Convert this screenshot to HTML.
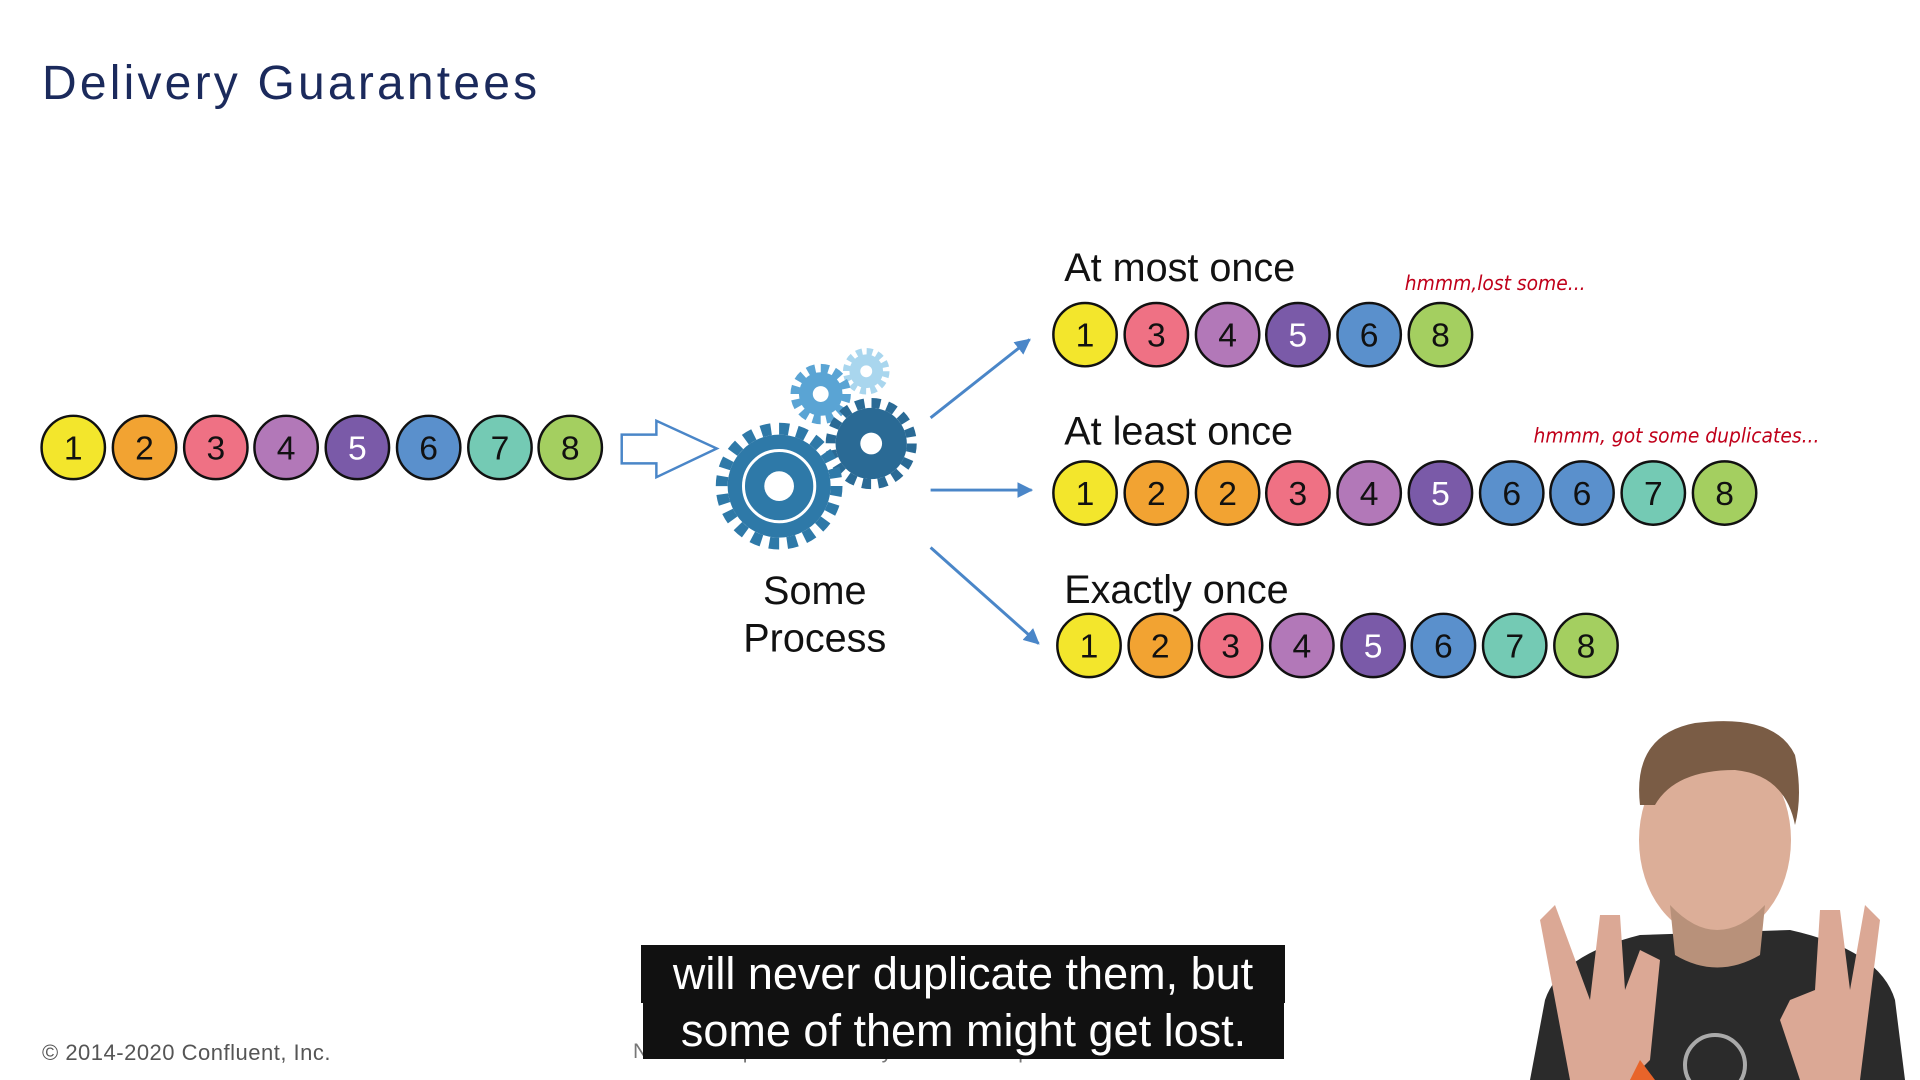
<!DOCTYPE html>
<html><head><meta charset="utf-8"><style>
html,body{margin:0;padding:0;background:#fff;}
body{width:1920px;height:1080px;position:relative;overflow:hidden;font-family:"Liberation Sans",sans-serif;}
.t{position:absolute;white-space:nowrap;}
</style></head><body>
<div class="t" style="left:42px;top:56px;font-size:48px;color:#1b2a5c;letter-spacing:3.2px;">Delivery Guarantees</div>

<svg width="1920" height="1080" style="position:absolute;left:0;top:0" font-family="Liberation Sans, sans-serif">
<defs>
<marker id="a2" viewBox="0 0 10 10" markerWidth="16" markerHeight="16" refX="9" refY="5" orient="auto" markerUnits="userSpaceOnUse"><path d="M0,0 L10,5 L0,10 z" fill="#4a86c8"/></marker>
</defs>
<g transform="translate(0,1) scale(0.99)">
<g stroke="#111" stroke-width="2.5" font-size="34" text-anchor="middle">
<g transform="translate(74,451)"><circle r="32" fill="#f3e62c"/><text y="12" fill="#111" stroke="none">1</text></g>
<g transform="translate(146,451)"><circle r="32" fill="#f2a332"/><text y="12" fill="#111" stroke="none">2</text></g>
<g transform="translate(218,451)"><circle r="32" fill="#ef7184"/><text y="12" fill="#111" stroke="none">3</text></g>
<g transform="translate(289,451)"><circle r="32" fill="#b278b8"/><text y="12" fill="#111" stroke="none">4</text></g>
<g transform="translate(361,451)"><circle r="32" fill="#7a5aa8"/><text y="12" fill="#fff" stroke="none">5</text></g>
<g transform="translate(433,451)"><circle r="32" fill="#5a90cc"/><text y="12" fill="#111" stroke="none">6</text></g>
<g transform="translate(505,451)"><circle r="32" fill="#74cab4"/><text y="12" fill="#111" stroke="none">7</text></g>
<g transform="translate(576,451)"><circle r="32" fill="#a4cf60"/><text y="12" fill="#111" stroke="none">8</text></g>
<g transform="translate(1096,337)"><circle r="32" fill="#f3e62c"/><text y="12" fill="#111" stroke="none">1</text></g>
<g transform="translate(1168,337)"><circle r="32" fill="#ef7184"/><text y="12" fill="#111" stroke="none">3</text></g>
<g transform="translate(1240,337)"><circle r="32" fill="#b278b8"/><text y="12" fill="#111" stroke="none">4</text></g>
<g transform="translate(1311,337)"><circle r="32" fill="#7a5aa8"/><text y="12" fill="#fff" stroke="none">5</text></g>
<g transform="translate(1383,337)"><circle r="32" fill="#5a90cc"/><text y="12" fill="#111" stroke="none">6</text></g>
<g transform="translate(1455,337)"><circle r="32" fill="#a4cf60"/><text y="12" fill="#111" stroke="none">8</text></g>
<g transform="translate(1096,497)"><circle r="32" fill="#f3e62c"/><text y="12" fill="#111" stroke="none">1</text></g>
<g transform="translate(1168,497)"><circle r="32" fill="#f2a332"/><text y="12" fill="#111" stroke="none">2</text></g>
<g transform="translate(1240,497)"><circle r="32" fill="#f2a332"/><text y="12" fill="#111" stroke="none">2</text></g>
<g transform="translate(1311,497)"><circle r="32" fill="#ef7184"/><text y="12" fill="#111" stroke="none">3</text></g>
<g transform="translate(1383,497)"><circle r="32" fill="#b278b8"/><text y="12" fill="#111" stroke="none">4</text></g>
<g transform="translate(1455,497)"><circle r="32" fill="#7a5aa8"/><text y="12" fill="#fff" stroke="none">5</text></g>
<g transform="translate(1527,497)"><circle r="32" fill="#5a90cc"/><text y="12" fill="#111" stroke="none">6</text></g>
<g transform="translate(1598,497)"><circle r="32" fill="#5a90cc"/><text y="12" fill="#111" stroke="none">6</text></g>
<g transform="translate(1670,497)"><circle r="32" fill="#74cab4"/><text y="12" fill="#111" stroke="none">7</text></g>
<g transform="translate(1742,497)"><circle r="32" fill="#a4cf60"/><text y="12" fill="#111" stroke="none">8</text></g>
<g transform="translate(1100,651)"><circle r="32" fill="#f3e62c"/><text y="12" fill="#111" stroke="none">1</text></g>
<g transform="translate(1172,651)"><circle r="32" fill="#f2a332"/><text y="12" fill="#111" stroke="none">2</text></g>
<g transform="translate(1243,651)"><circle r="32" fill="#ef7184"/><text y="12" fill="#111" stroke="none">3</text></g>
<g transform="translate(1315,651)"><circle r="32" fill="#b278b8"/><text y="12" fill="#111" stroke="none">4</text></g>
<g transform="translate(1387,651)"><circle r="32" fill="#7a5aa8"/><text y="12" fill="#fff" stroke="none">5</text></g>
<g transform="translate(1458,651)"><circle r="32" fill="#5a90cc"/><text y="12" fill="#111" stroke="none">6</text></g>
<g transform="translate(1530,651)"><circle r="32" fill="#74cab4"/><text y="12" fill="#111" stroke="none">7</text></g>
<g transform="translate(1602,651)"><circle r="32" fill="#a4cf60"/><text y="12" fill="#111" stroke="none">8</text></g>
</g>

<path d="M628,438 L663,438 L663,424 L724,452 L663,481 L663,467 L628,467 Z" fill="#fff" stroke="#4a86c8" stroke-width="2.5"/>

<g transform="translate(875,374)"><circle r="17" fill="#a9d6ee"/><circle r="20" fill="none" stroke="#a9d6ee" stroke-width="7" stroke-dasharray="6 4.5"/><circle r="6" fill="#fff"/></g>
<g transform="translate(829,397)"><circle r="22" fill="#5aa4d4"/><circle r="26" fill="none" stroke="#5aa4d4" stroke-width="9" stroke-dasharray="8 5.6"/><circle r="8" fill="#fff"/></g>
<g transform="translate(880,447)"><circle r="36" fill="#2a6a95"/><circle r="41" fill="none" stroke="#2a6a95" stroke-width="10" stroke-dasharray="9 7.1"/><circle r="11" fill="#fff"/></g>
<g transform="translate(787,490)"><circle r="52" fill="#2e79a8"/><circle r="58" fill="none" stroke="#2e79a8" stroke-width="12" stroke-dasharray="10 8.2"/><circle r="36" fill="none" stroke="#fff" stroke-width="3"/><circle r="15" fill="#fff"/></g>

<g stroke="#4a86c8" stroke-width="3" fill="none">
<line x1="940" y1="421" x2="1040" y2="342" marker-end="url(#a2)"/>
<line x1="940" y1="494" x2="1042" y2="494" marker-end="url(#a2)"/>
<line x1="940" y1="552" x2="1049" y2="649" marker-end="url(#a2)"/>
</g>

<g font-size="40" fill="#111">
<text x="823" y="609" text-anchor="middle">Some</text>
<text x="823" y="657" text-anchor="middle">Process</text>
<text x="1075" y="283">At most once</text>
<text x="1075" y="448">At least once</text>
<text x="1075" y="608">Exactly once</text>
</g>
<g font-size="21" fill="#c0001a" font-family="DejaVu Sans Condensed, Liberation Sans Narrow, sans-serif" font-style="italic">
<text x="1419" y="292">hmmm,lost some...</text>
<text x="1549" y="446">hmmm, got some duplicates...</text>
</g>
</g>

<g>
<path d="M1530,1080 L1545,1000 Q1560,955 1640,935 L1790,930 Q1880,950 1895,1000 L1905,1080 Z" fill="#2b2b2b"/>
<ellipse cx="1715" cy="840" rx="76" ry="98" fill="#dcae98"/>
<path d="M1640,805 Q1632,735 1695,723 Q1775,713 1795,755 Q1803,795 1795,825 Q1785,775 1735,770 Q1675,770 1655,805 Z" fill="#7a5c45"/>
<path d="M1670,905 Q1717,955 1765,905 L1760,955 Q1717,980 1675,955 Z" fill="#b8917a"/>
<path d="M1540,920 L1555,905 L1590,1000 L1600,915 L1620,915 L1625,990 L1640,950 L1660,960 L1650,1060 L1630,1080 L1570,1080 Z" fill="#dba895"/>
<path d="M1880,920 L1865,905 L1850,990 L1840,910 L1820,910 L1815,990 L1790,1000 L1780,1020 L1800,1080 L1860,1080 Z" fill="#dba895"/>
<circle cx="1715" cy="1065" r="30" fill="none" stroke="#aaa" stroke-width="4"/>
<path d="M1630,1080 L1640,1060 L1655,1080 Z" fill="#e8642a"/>
</g>
</svg>

<div class="t" style="left:42px;top:1040px;font-size:22px;color:#555;letter-spacing:0.5px;">© 2014-2020 Confluent, Inc.</div>
<div class="t" style="left:633px;top:1040px;font-size:21px;color:#777;">Not to be reproduced in any form without prior written consent.</div>
<div class="t" style="left:641px;top:945px;width:644px;height:58px;background:#111;color:#fff;font-size:45px;line-height:58px;text-align:center;">will never duplicate them, but</div>
<div class="t" style="left:643px;top:1003px;width:641px;height:56px;background:#111;color:#fff;font-size:45px;line-height:56px;text-align:center;">some of them might get lost.</div>
</body></html>
